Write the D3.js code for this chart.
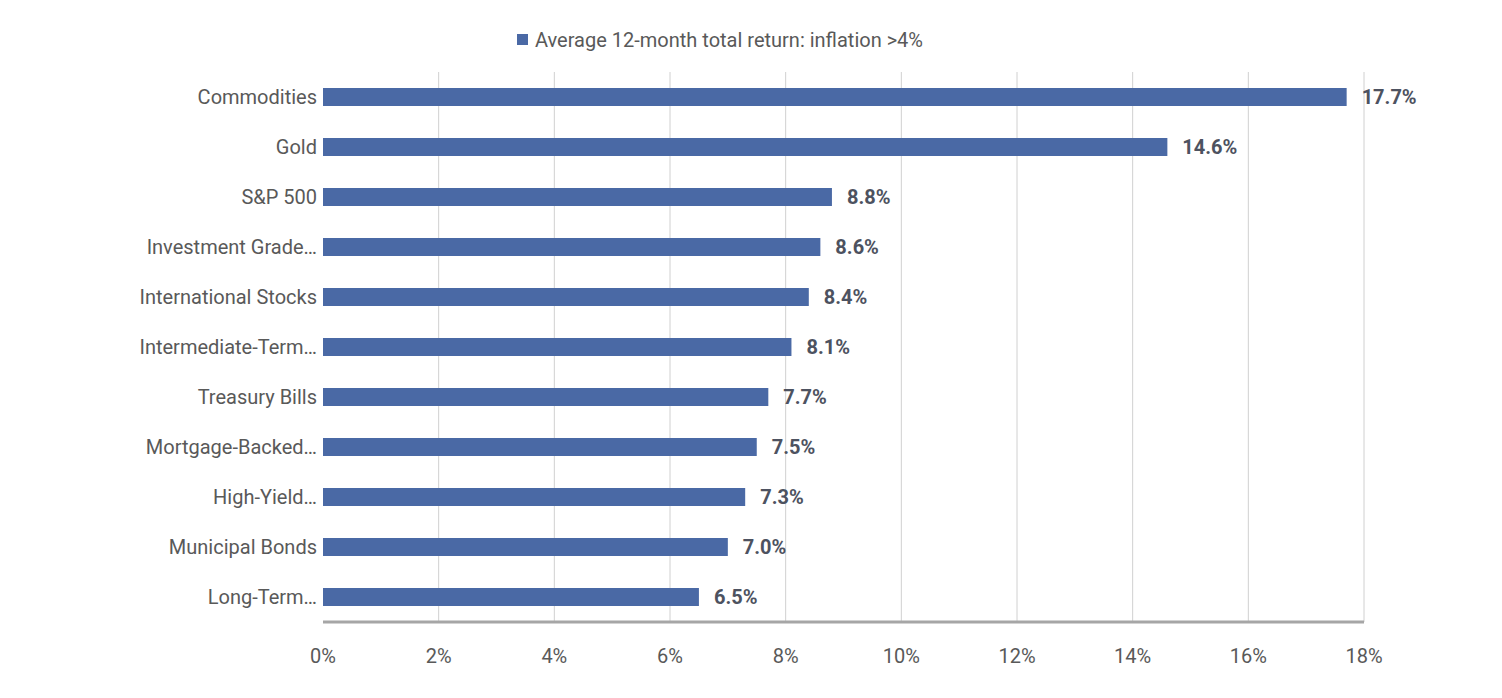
<!DOCTYPE html>
<html><head><meta charset="utf-8">
<script src="https://cdn.jsdelivr.net/npm/d3@7"></script>
<style>body{margin:0;background:#fff}</style>
</head><body><div id="chart"></div>
<script>
// data
var categories = ['Commodities', 'Gold', 'S&P 500', 'Investment Grade\u2026', 'International Stocks',
  'Intermediate-Term\u2026', 'Treasury Bills', 'Mortgage-Backed\u2026', 'High-Yield\u2026',
  'Municipal Bonds', 'Long-Term\u2026'];
var values = [17.7, 14.6, 8.8, 8.6, 8.4, 8.1, 7.7, 7.5, 7.3, 7.0, 6.5];
var ticks = [0, 2, 4, 6, 8, 10, 12, 14, 16, 18];
var seriesName = 'Average 12-month total return: inflation >4%';

var width = 1502, height = 698;
var plotLeft = 323, plotRight = 1364, plotTop = 72, plotBottom = 622;
var barColor = '#4a69a5', textColor = '#595959', font = 'Roboto, sans-serif';

var svg = d3.select('#chart').append('svg')
    .attr('width', width).attr('height', height);

var x = d3.scaleLinear().domain([0, 18]).range([plotLeft, plotRight]);
var y = d3.scaleBand().domain(categories).range([plotTop, plotBottom]).paddingInner(0.64).paddingOuter(0.32);

// gridlines
svg.selectAll('line.grid').data(ticks.slice(1)).enter().append('line')
    .attr('x1', d => x(d)).attr('x2', d => x(d))
    .attr('y1', plotTop).attr('y2', plotBottom)
    .attr('stroke', '#d0d0d0').attr('stroke-width', 1);

// bars
svg.selectAll('rect.bar').data(values).enter().append('rect')
    .attr('x', x(0)).attr('y', (d, i) => y(categories[i]))
    .attr('width', d => x(d) - x(0)).attr('height', y.bandwidth())
    .attr('fill', barColor);

// value labels
svg.selectAll('text.val').data(values).enter().append('text')
    .attr('x', d => x(d) + 15).attr('y', (d, i) => y(categories[i]) + y.bandwidth() / 2)
    .attr('dy', '0.35em')
    .attr('font-family', font).attr('font-size', 20).attr('font-weight', 'bold')
    .attr('fill', '#4d5260')
    .text(d => d.toFixed(1) + '%');

// category labels
svg.selectAll('text.cat').data(categories).enter().append('text')
    .attr('x', plotLeft - 6).attr('y', d => y(d) + y.bandwidth() / 2)
    .attr('dy', '0.35em').attr('text-anchor', 'end')
    .attr('font-family', font).attr('font-size', 20).attr('fill', textColor)
    .text(d => d);

// x axis
svg.append('line').attr('x1', plotLeft).attr('x2', plotRight).attr('y1', plotBottom).attr('y2', plotBottom)
    .attr('stroke', '#a6a6a6').attr('stroke-width', 3);
svg.selectAll('text.tick').data(ticks).enter().append('text')
    .attr('x', d => x(d)).attr('y', 663).attr('text-anchor', 'middle')
    .attr('font-family', font).attr('font-size', 20).attr('fill', textColor)
    .text(d => d + '%');

// legend
var leg = svg.append('g').attr('transform', 'translate(517,40)');
leg.append('rect').attr('x', 0).attr('y', -6).attr('width', 11).attr('height', 11).attr('fill', barColor);
leg.append('text').attr('x', 18).attr('y', 0).attr('dy', '0.35em')
    .attr('font-family', font).attr('font-size', 20).attr('fill', textColor)
    .text(seriesName);
</script></body></html>
